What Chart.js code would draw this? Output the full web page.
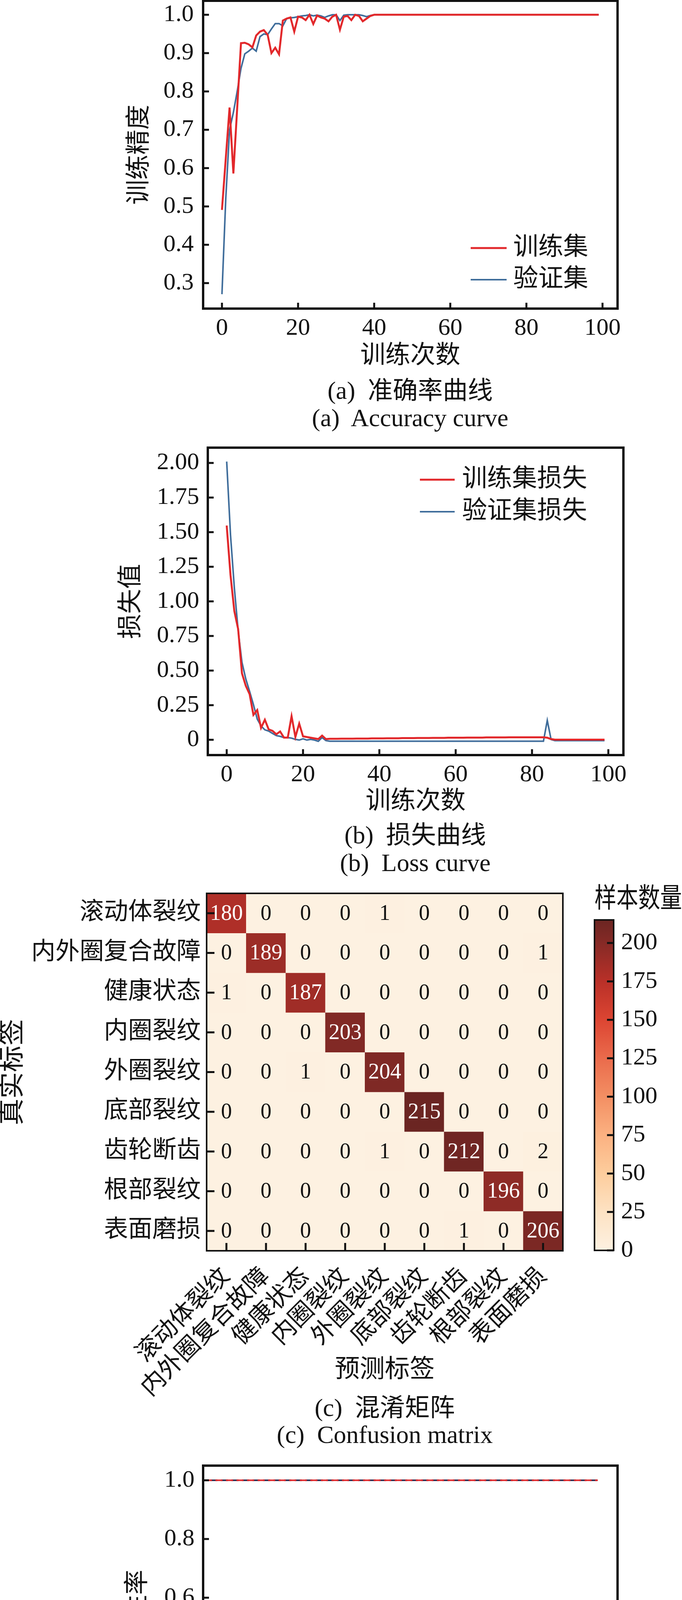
<!DOCTYPE html>
<html>
<head>
<meta charset="utf-8">
<script src="https://cdn.jsdelivr.net/npm/chart.js@4.4.1/dist/chart.umd.min.js"></script>
<style>
html, body { margin: 0; padding: 0; background: #fff; }
body { width: 1746px; height: 4850px; position: relative; overflow: hidden; }
canvas { position: absolute; }
.cap { position: absolute; transform: translate(-50%, -50%); white-space: pre; line-height: 1;
  font: 64px "Liberation Serif", "Noto Sans CJK SC", serif; color: #111; }
</style>
</head>
<body>
<canvas id="acc" width="1746" height="951" style="left:0;top:0"></canvas>
<div class="cap" style="left:1050px;top:993px">(a)  准确率曲线</div>
<div class="cap" style="left:1050px;top:1070px">(a)  Accuracy curve</div>

<canvas id="loss" width="1746" height="992" style="left:0;top:1100px"></canvas>
<div class="cap" style="left:1063px;top:2131px">(b)  损失曲线</div>
<div class="cap" style="left:1063px;top:2209px">(b)  Loss curve</div>

<canvas id="cm" width="1462" height="1400" style="left:0;top:2240px"></canvas>
<canvas id="cbar" width="284" height="1020" style="left:1462px;top:2240px"></canvas>
<div class="cap" style="left:985px;top:3597px">(c)  混淆矩阵</div>
<div class="cap" style="left:985px;top:3673px">(c)  Confusion matrix</div>

<canvas id="roc" width="1746" height="1002" style="left:0;top:3700px"></canvas>
<div class="cap" style="left:1050px;top:4740px">(d)  ROC曲线</div>
<div class="cap" style="left:1050px;top:4817px">(d)  ROC curve</div>

<script>
// ---- data ----
const epochs = [
  0,1,2,3,4,5,6,7,8,9,10,11,12,13,14,15,16,17,18,19,20,21,22,23,24,25,26,27,28,29,
  30,31,32,33,34,35,36,37,38,39,40,41,42,43,44,45,46,47,48,49,50,51,52,53,54,55,56,57,58,59,
  60,61,62,63,64,65,66,67,68,69,70,71,72,73,74,75,76,77,78,79,80,81,82,83,84,85,86,87,88,89,
  90,91,92,93,94,95,96,97,98,99];

const accTrain = [
  0.491,0.625,0.758,0.586,0.756,0.926,0.927,0.923,0.915,0.946,
  0.956,0.960,0.948,0.900,0.914,0.897,0.985,0.990,0.993,0.956,
  0.995,0.993,0.986,1.000,0.976,0.998,0.993,0.990,0.983,0.995,
  1.000,0.961,0.995,0.997,0.986,1.000,0.997,0.983,0.990,0.997,
  1.000,1.000,1.000,1.000,1.000,1.000,1.000,1.000,1.000,1.000,
  1.000,1.000,1.000,1.000,1.000,1.000,1.000,1.000,1.000,1.000,
  1.000,1.000,1.000,1.000,1.000,1.000,1.000,1.000,1.000,1.000,
  1.000,1.000,1.000,1.000,1.000,1.000,1.000,1.000,1.000,1.000,
  1.000,1.000,1.000,1.000,1.000,1.000,1.000,1.000,1.000,1.000,
  1.000,1.000,1.000,1.000,1.000,1.000,1.000,1.000,1.000,1.000];
const accValid = [
  0.271,0.520,0.700,0.745,0.800,0.860,0.898,0.905,0.913,0.905,
  0.943,0.950,0.948,0.963,0.977,0.977,0.971,0.990,0.992,0.993,
  0.995,0.997,0.998,1.000,0.997,0.999,0.997,0.993,0.997,1.000,
  1.000,0.985,0.999,1.000,1.000,1.000,1.000,0.998,0.995,0.998,
  1.000,1.000,1.000,1.000,1.000,1.000,1.000,1.000,1.000,1.000,
  1.000,1.000,1.000,1.000,1.000,1.000,1.000,1.000,1.000,1.000,
  1.000,1.000,1.000,1.000,1.000,1.000,1.000,1.000,1.000,1.000,
  1.000,1.000,1.000,1.000,1.000,1.000,1.000,1.000,1.000,1.000,
  1.000,1.000,1.000,1.000,1.000,1.000,1.000,1.000,1.000,1.000,
  1.000,1.000,1.000,1.000,1.000,1.000,1.000,1.000,1.000,1.000];

const lossTrain = [
  1.548,1.190,0.930,0.800,0.480,0.390,0.330,0.180,0.215,0.086,
  0.145,0.075,0.065,0.040,0.060,0.016,0.016,0.170,0.020,0.117,
  0.025,0.020,0.015,0.010,0.005,0.030,0.005,0.007,0.007,0.007,
  0.008,0.008,0.008,0.008,0.009,0.009,0.009,0.009,0.010,0.010,
  0.010,0.010,0.011,0.011,0.011,0.011,0.012,0.012,0.012,0.012,
  0.013,0.013,0.013,0.013,0.014,0.014,0.014,0.014,0.015,0.015,
  0.015,0.015,0.015,0.016,0.016,0.016,0.016,0.016,0.017,0.017,
  0.017,0.017,0.017,0.017,0.018,0.018,0.018,0.018,0.018,0.018,
  0.018,0.018,0.018,0.018,0.015,0.005,0.001,0.001,0.001,0.001,
  0.001,0.001,0.001,0.001,0.001,0.001,0.001,0.001,0.001,0.001];
const lossValid = [
  2.010,1.480,1.100,0.790,0.560,0.440,0.350,0.255,0.150,0.100,
  0.072,0.063,0.046,0.030,0.025,0.016,0.016,0.012,0.003,-0.002,
  0.007,-0.002,0.003,-0.002,-0.011,0.016,-0.006,-0.010,-0.010,-0.010,
  -0.010,-0.010,-0.010,-0.010,-0.010,-0.010,-0.010,-0.010,-0.010,-0.010,
  -0.010,-0.010,-0.010,-0.010,-0.010,-0.010,-0.010,-0.010,-0.010,-0.010,
  -0.010,-0.010,-0.010,-0.010,-0.010,-0.010,-0.010,-0.010,-0.010,-0.010,
  -0.010,-0.010,-0.010,-0.010,-0.010,-0.010,-0.010,-0.010,-0.010,-0.010,
  -0.010,-0.010,-0.010,-0.010,-0.010,-0.010,-0.010,-0.010,-0.010,-0.010,
  -0.010,-0.010,-0.010,-0.010,0.140,0.002,-0.006,-0.006,-0.006,-0.006,
  -0.006,-0.006,-0.006,-0.006,-0.006,-0.006,-0.006,-0.006,-0.006,-0.006];

const classLabels = ['滚动体裂纹','内外圈复合故障','健康状态','内圈裂纹','外圈裂纹','底部裂纹','齿轮断齿','根部裂纹','表面磨损'];
const cmValues = [
  [180,0,0,0,1,0,0,0,0],
  [0,189,0,0,0,0,0,0,1],
  [1,0,187,0,0,0,0,0,0],
  [0,0,0,203,0,0,0,0,0],
  [0,0,1,0,204,0,0,0,0],
  [0,0,0,0,0,215,0,0,0],
  [0,0,0,0,1,0,212,0,2],
  [0,0,0,0,0,0,0,196,0],
  [0,0,0,0,0,0,1,0,206]];
const cbarMax = 215;

const rocFpr = [0, 0, 1];
const rocTprMicro = [0, 1, 1];
const rocTprMacro = [0, 1, 1];

// tick values / labels
const epochTicks = [0, 20, 40, 60, 80, 100];
const epochTickLabels = ['0', '20', '40', '60', '80', '100'];
const accTicks = [0.3, 0.4, 0.5, 0.6, 0.7, 0.8, 0.9, 1.0];
const accTickLabels = ['0.3', '0.4', '0.5', '0.6', '0.7', '0.8', '0.9', '1.0'];
const lossTicks = [0, 0.25, 0.5, 0.75, 1.0, 1.25, 1.5, 1.75, 2.0];
const lossTickLabels = ['0', '0.25', '0.50', '0.75', '1.00', '1.25', '1.50', '1.75', '2.00'];
const rocXTicks = [0, 0.2, 0.4, 0.6, 0.8, 1.0];
const rocXTickLabels = ['0', '0.2', '0.4', '0.6', '0.8', '1.0'];
const rocYTicks = [0.2, 0.4, 0.6, 0.8, 1.0];
const rocYTickLabels = ['0.2', '0.4', '0.6', '0.8', '1.0'];
const cbarTicks = [0, 25, 50, 75, 100, 125, 150, 175, 200];
const cbarTickLabels = ['0', '25', '50', '75', '100', '125', '150', '175', '200'];

// ---- styling ----
const FONT = '"Liberation Serif", "Noto Sans CJK SC", serif';
const INK = '#111111';
const RED = '#e2282b';
const BLUE = '#3f6d9b';
const NAVY = '#2a2a4e';
const cmapStops = [
  [0.000, '#fdf1e1'], [0.116, '#fde2c3'], [0.233, '#fdcd9d'], [0.349, '#fbb181'],
  [0.465, '#f38f63'], [0.581, '#ea6b4c'], [0.698, '#dc4532'], [0.814, '#b93028'],
  [0.930, '#862a26'], [1.000, '#6b2522']];

Chart.defaults.font.family = FONT;
Chart.defaults.color = INK;

function hexRgb(h) { return [1, 3, 5].map(k => parseInt(h.substr(k, 2), 16)); }
function cmap(f) {
  f = Math.max(0, Math.min(1, f));
  for (let k = 1; k < cmapStops.length; k++) {
    const [f1, c1] = cmapStops[k];
    if (f <= f1) {
      const [f0, c0] = cmapStops[k - 1];
      const t = (f - f0) / (f1 - f0), a = hexRgb(c0), b = hexRgb(c1);
      return 'rgb(' + a.map((v, i) => Math.round(v + (b[i] - v) * t)).join(',') + ')';
    }
  }
  return cmapStops[cmapStops.length - 1][1];
}

// frame round the plot area plus inward tick marks
const frameTicks = {
  id: 'frameTicks',
  afterDraw(chart, args, o) {
    const {ctx, chartArea: a} = chart;
    ctx.save();
    ctx.strokeStyle = INK;
    ctx.lineWidth = o.tickWidth;
    (o.sides || []).forEach(([id, side]) => {
      const s = chart.scales[id];
      s.ticks.forEach(t => {
        const p = s.getPixelForValue(t.value);
        ctx.beginPath();
        if (side === 'bottom') { ctx.moveTo(p, a.bottom); ctx.lineTo(p, a.bottom - o.len); }
        if (side === 'left') { ctx.moveTo(a.left, p); ctx.lineTo(a.left + o.len, p); }
        if (side === 'right') { ctx.moveTo(a.right, p); ctx.lineTo(a.right - o.len, p); }
        ctx.stroke();
      });
    });
    ctx.lineWidth = o.width;
    ctx.strokeRect(a.left, a.top, a.right - a.left, a.bottom - a.top);
    ctx.restore();
  }
};

// legend drawn inside the plot area from the dataset labels/styles
const lineLegend = {
  id: 'lineLegend',
  afterDraw(chart, args, o) {
    if (!o.rowH) return;
    const {ctx, chartArea: a} = chart;
    ctx.save();
    ctx.font = o.size + 'px ' + FONT;
    ctx.textBaseline = 'middle';
    ctx.fillStyle = INK;
    chart.data.datasets.forEach((d, i) => {
      const y = (o.fromTop ? a.top : a.bottom) + o.y0 + i * o.rowH;
      const x0 = a.right - o.right;
      ctx.strokeStyle = d.borderColor;
      ctx.lineWidth = d.borderWidth;
      ctx.setLineDash(d.borderDash || []);
      ctx.beginPath(); ctx.moveTo(x0, y); ctx.lineTo(x0 + o.lineLen, y); ctx.stroke();
      ctx.setLineDash([]);
      ctx.fillText(d.label, x0 + o.lineLen + o.gap, y);
    });
    ctx.restore();
  }
};

function axis(o) {
  return {
    type: 'linear', min: o.min, max: o.max, position: o.position, reverse: !!o.reverse,
    afterBuildTicks: s => { s.ticks = o.ticks.map(v => ({value: v})); },
    afterFit: s => {
      if (o.width !== undefined) s.width = o.width;
      if (o.height !== undefined) s.height = o.height;
      s.paddingTop = s.paddingBottom = s.paddingLeft = s.paddingRight = 0;
    },
    grid: {display: false, drawTicks: false},
    border: {display: false},
    ticks: {font: {family: FONT, size: o.size || 62}, color: INK, padding: o.pad,
      autoSkip: false, maxRotation: 0, minRotation: 0, callback: (v, i) => o.labels[i]},
    title: o.title ? {display: true, text: o.title, color: INK, padding: 0,
      font: {family: FONT, size: o.titleSize || 64, lineHeight: o.titleLH || 1.2}} : {display: false}
  };
}

function points(xs, ys) { return xs.map((x, i) => ({x: x, y: ys[i]})); }

const base = {responsive: false, animation: false, devicePixelRatio: 1,
  plugins: {legend: {display: false}, tooltip: {enabled: false}}};

// (a) accuracy
new Chart(document.getElementById('acc'), {
  type: 'line',
  data: {datasets: [
    {label: '训练集', data: points(epochs, accTrain), borderColor: RED, borderWidth: 5, pointRadius: 0},
    {label: '验证集', data: points(epochs, accValid), borderColor: BLUE, borderWidth: 4, pointRadius: 0}]},
  options: Object.assign({}, base, {
    layout: {padding: {left: 320, top: 2, right: 165, bottom: 0}},
    scales: {
      x: axis({min: -4.95, max: 103.95, ticks: epochTicks, labels: epochTickLabels, height: 161, pad: 14, title: '训练次数'}),
      y: axis({min: 0.2335, max: 1.0365, ticks: accTicks, labels: accTickLabels, width: 200, pad: 24, title: '训练精度'})
    },
    plugins: Object.assign({}, base.plugins, {
      frameTicks: {width: 6, tickWidth: 5, len: 15, sides: [['x', 'bottom'], ['y', 'left']]},
      lineLegend: {size: 64, rowH: 81, y0: -155, right: 376, lineLen: 92, gap: 17}
    })
  }),
  plugins: [frameTicks, lineLegend]
});

// (b) loss
new Chart(document.getElementById('loss'), {
  type: 'line',
  data: {datasets: [
    {label: '训练集损失', data: points(epochs, lossTrain), borderColor: RED, borderWidth: 5, pointRadius: 0},
    {label: '验证集损失', data: points(epochs, lossValid), borderColor: BLUE, borderWidth: 4, pointRadius: 0}]},
  options: Object.assign({}, base, {
    layout: {padding: {left: 299, top: 46, right: 150, bottom: 0}},
    scales: {
      x: axis({min: -4.95, max: 103.95, ticks: epochTicks, labels: epochTickLabels, height: 159, pad: 14, title: '训练次数'}),
      y: axis({min: -0.1105, max: 2.1105, ticks: lossTicks, labels: lossTickLabels, width: 233, pad: 22, title: '损失值'})
    },
    plugins: Object.assign({}, base.plugins, {
      frameTicks: {width: 6, tickWidth: 5, len: 15, sides: [['x', 'bottom'], ['y', 'left']]},
      lineLegend: {size: 64, rowH: 82, y0: 82, fromTop: true, right: 521, lineLen: 89, gap: 19}
    })
  }),
  plugins: [frameTicks, lineLegend]
});

// (c) confusion matrix as floating bars, one dataset per true-label row
const cellText = {
  id: 'cellText',
  afterDatasetsDraw(chart) {
    const {ctx, scales: {x, y}} = chart;
    ctx.save();
    ctx.font = '56px ' + FONT;
    ctx.textAlign = 'center';
    ctx.textBaseline = 'middle';
    cmValues.forEach((row, i) => row.forEach((v, j) => {
      ctx.fillStyle = v > cbarMax / 2 ? '#ffffff' : INK;
      ctx.fillText(String(v), x.getPixelForValue(j), y.getPixelForValue(i + 0.5) + 2);
    }));
    ctx.restore();
  }
};

const rowCenters = classLabels.map((_, i) => i + 0.5);
new Chart(document.getElementById('cm'), {
  type: 'bar',
  data: {
    labels: classLabels,
    datasets: cmValues.map((row, i) => ({
      label: classLabels[i],
      data: row.map(() => [i, i + 1]),
      backgroundColor: row.map(v => cmap(v / cbarMax)),
      borderWidth: 0, barPercentage: 1, categoryPercentage: 1, grouped: false
    }))
  },
  options: Object.assign({}, base, {
    layout: {padding: {left: 1, top: 47, right: 21, bottom: 0}},
    scales: {
      x: {
        type: 'category',
        afterFit: s => { s.height = 438; s.paddingLeft = s.paddingRight = 0; },
        grid: {display: false, drawTicks: false}, border: {display: false},
        ticks: {font: {family: FONT, size: 62}, color: INK, padding: 30, autoSkip: false,
          minRotation: 45, maxRotation: 45},
        title: {display: true, text: '预测标签', color: INK, padding: {top: 0, bottom: 93},
          font: {family: FONT, size: 64}}
      },
      y: axis({min: 0, max: 9, reverse: true, ticks: rowCenters, labels: classLabels,
        width: 528, pad: 15, title: '真实标签', titleSize: 68, titleLH: 1.0})
    },
    plugins: Object.assign({}, base.plugins, {
      frameTicks: {width: 4, tickWidth: 5, len: 20, sides: [['x', 'bottom'], ['y', 'left']]}
    })
  }),
  plugins: [cellText, frameTicks]
});

// colour bar
new Chart(document.getElementById('cbar'), {
  type: 'bar',
  data: {labels: [''], datasets: [{
    data: [[0, cbarMax]], borderWidth: 0, barPercentage: 1, categoryPercentage: 1,
    backgroundColor: c => {
      const ch = c.chart;
      if (!ch.chartArea) return cmapStops[0][1];
      const s = ch.scales.y;
      const g = ch.ctx.createLinearGradient(0, s.getPixelForValue(0), 0, s.getPixelForValue(cbarMax));
      cmapStops.forEach(([f, col]) => g.addColorStop(f, col));
      return g;
    }
  }]},
  options: Object.assign({}, base, {
    layout: {padding: {left: 60, top: 0, right: 0, bottom: 59}},
    scales: {
      x: {display: false},
      y: axis({min: 0, max: cbarMax, position: 'right', ticks: cbarTicks, labels: cbarTickLabels,
        width: 175, pad: 19})
    },
    plugins: Object.assign({}, base.plugins, {
      title: {display: true, text: '样本数量', color: INK, padding: {top: 23, bottom: 8},
        font: {family: FONT, size: 70, weight: 'normal', lineHeight: 1.2}},
      frameTicks: {width: 4, tickWidth: 5, len: 17, sides: [['y', 'right']]}
    })
  }),
  plugins: [frameTicks]
});

// (d) ROC
new Chart(document.getElementById('roc'), {
  type: 'line',
  data: {datasets: [
    {label: 'ROC曲线微平均值 (面积为1)', data: points(rocFpr, rocTprMicro), borderColor: RED,
      borderWidth: 4, borderDash: [18, 9], pointRadius: 0},
    {label: 'ROC曲线宏平均值 (面积为1)', data: points(rocFpr, rocTprMacro), borderColor: NAVY,
      borderWidth: 4, borderDash: [18, 9], borderDashOffset: 13, pointRadius: 0}]},
  options: Object.assign({}, base, {
    layout: {padding: {left: 316, top: 52, right: 165, bottom: 0}},
    scales: {
      x: axis({min: 0, max: 1.05, ticks: rocXTicks, labels: rocXTickLabels, height: 161, pad: 14, title: '假阳性率'}),
      y: axis({min: 0, max: 1.05, ticks: rocYTicks, labels: rocYTickLabels, width: 204, pad: 22, title: '真阳性率'})
    },
    plugins: Object.assign({}, base.plugins, {
      frameTicks: {width: 6, tickWidth: 5, len: 15, sides: [['x', 'bottom'], ['y', 'left']]},
      lineLegend: {size: 60, rowH: 67, y0: -141, right: 863, lineLen: 86, gap: 18}
    })
  }),
  plugins: [frameTicks, lineLegend]
});
</script>
</body>
</html>
